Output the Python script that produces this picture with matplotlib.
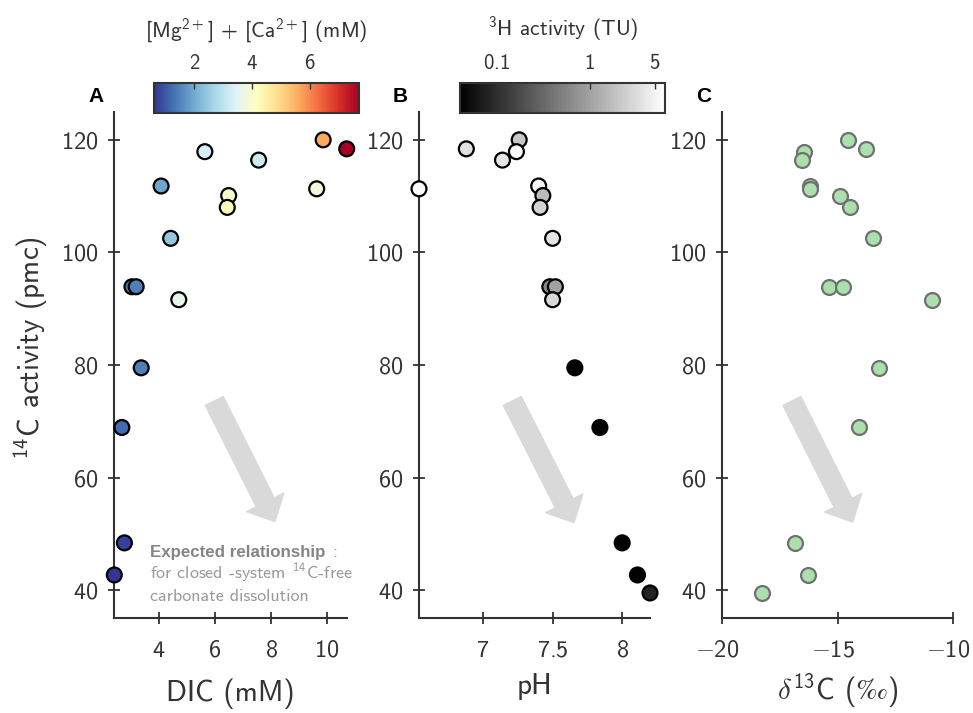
import numpy as np
import matplotlib
matplotlib.use("Agg")
import matplotlib.pyplot as plt
from matplotlib import cm, colors
from matplotlib.ticker import FuncFormatter
from matplotlib.transforms import ScaledTranslation

plt.rcParams['font.family'] = ['cmss10', 'DejaVu Sans']
plt.rcParams['mathtext.fontset'] = 'custom'
plt.rcParams['mathtext.rm'] = 'cmss10'
plt.rcParams['mathtext.sf'] = 'cmss10'
plt.rcParams['mathtext.it'] = 'cmss10'
plt.rcParams['mathtext.fallback'] = 'cm'

# samples sorted by 14C activity
pmc = [120.0, 118.4, 117.9, 116.4, 111.8, 111.3, 110.1, 108.0, 102.5,
       93.9, 93.9, 91.6, 79.5, 68.9, 48.4, 42.7, 39.5]
dic = [9.86, 10.70, 5.64, 7.56, 4.08, 9.63, 6.49, 6.44, 4.42,
       3.04, 3.19, 4.71, 3.37, 2.68, 2.77, 2.41, np.nan]
mgca = [5.6, 7.7, 3.3, 3.2, 1.95, 3.8, 4.0, 4.2, 2.45,
        1.45, 1.45, 3.6, 1.45, 1.2, 0.75, 0.6, np.nan]
ph = [7.26, 6.88, 7.24, 7.14, 7.40, 6.54, 7.43, 7.41, 7.50,
      7.48, 7.52, 7.50, 7.66, 7.84, 8.00, 8.11, 8.20]
tritium = [2.1, 3.5, 5.6, 3.7, 5.2, 6.4, 1.65, 2.7, 3.7,
           0.6, 0.99, 2.9, 0.04, 0.04, 0.04, 0.04, 0.08]
d13c = [-14.55, -13.77, -16.45, -16.54, -16.2, -16.2, -14.88, -14.47, -13.47,
        -15.35, -14.77, -10.88, -13.2, -14.08, -16.83, -16.28, -18.29]

dic = np.array(dic)
mgca = np.array(mgca)
ok = ~np.isnan(dic)

W, H = 973, 713
fig = plt.figure(figsize=(W / 100, H / 100), dpi=100)

def fx(px):
    return px / W

def fy(py):
    return 1 - py / H

def sf(v, pos=None):
    return r'$\mathsf{%g}$' % v

dark = '#333333'
bottom, top = fy(618.3), fy(111.7)
lefts = [114.3, 419.0, 722.3]
widths = [232.4, 231.0, 230.4]
axes = [fig.add_axes([fx(l), bottom, fx(w), top - bottom]) for l, w in zip(lefts, widths)]

for ax in axes:
    ax.set_ylim(35, 125)
    ax.set_yticks([40, 60, 80, 100, 120])
    ax.yaxis.set_major_formatter(FuncFormatter(sf))
    ax.xaxis.set_major_formatter(FuncFormatter(sf))
    for s in ['top', 'right']:
        ax.spines[s].set_visible(False)
    for s in ['left', 'bottom']:
        ax.spines[s].set_color(dark)
        ax.spines[s].set_linewidth(1.5)
    ax.tick_params(direction='inout', length=9, width=1.3, color=dark,
                   labelcolor=dark, labelsize=17.5)
    ax.tick_params(axis='x', pad=11)
    ax.tick_params(axis='y', pad=7)

# panel A
axA = axes[0]
normA = colors.Normalize(vmin=np.nanmin(mgca), vmax=np.nanmax(mgca))
axA.scatter(dic[ok], np.array(pmc)[ok], c=mgca[ok], cmap='RdYlBu_r', norm=normA,
            s=115, edgecolors='black', linewidths=1.6, zorder=3, clip_on=False)
axA.set_xlim(np.nanmin(dic), np.nanmax(dic))
axA.set_xticks([4, 6, 8, 10])
axA.set_xlabel('DIC (mM)', fontsize=21, color=dark, labelpad=12)
axA.set_ylabel(r'$^{\mathsf{14}}$C activity (pmc)', fontsize=21, color=dark)
axA.yaxis.set_label_coords(-0.277, 0.533)

# panel B
axB = axes[1]
normB = colors.LogNorm(vmin=min(tritium), vmax=max(tritium))
axB.scatter(ph, pmc, c=tritium, cmap='gray', norm=normB,
            s=115, edgecolors='black', linewidths=1.6, zorder=3, clip_on=False)
axB.set_xlim(min(ph), max(ph))
axB.set_xticks([7, 7.5, 8])
axB.set_xlabel('pH', fontsize=21, color=dark, labelpad=8)

# panel C
axC = axes[2]
axC.scatter(d13c, pmc, color='#abdfab', s=115, edgecolors='#707070',
            linewidths=1.6, zorder=3, clip_on=False)
axC.set_xlim(-20, -10)
axC.set_xticks([-20, -15, -10])
axC.set_xlabel(r'$\delta^{\mathsf{13}}$C ($\mathsf{‰}$)', fontsize=21, color=dark, labelpad=7)
shift = ScaledTranslation(-5 / 100, 0, fig.dpi_scale_trans)
for lbl in axC.get_xticklabels():
    lbl.set_transform(lbl.get_transform() + shift)

# expected relationship arrows
arrows = [((0.43, 0.429), (0.691, 0.191)),
          ((0.404, 0.429), (0.671, 0.189)),
          ((0.302, 0.429), (0.566, 0.190))]
for ax, (tail, tip) in zip(axes, arrows):
    ax.annotate('', xy=tip, xytext=tail, xycoords='axes fraction',
                arrowprops=dict(arrowstyle='simple,head_width=3.0,head_length=1.55,tail_width=1.44',
                                color='#d9d9d9', shrinkA=0, shrinkB=0, mutation_scale=10),
                zorder=1)

fig.text(fx(150), fy(556.7), 'Expected relationship', fontsize=12.2, color='#858585',
         fontweight='bold', family='Liberation Sans', va='baseline')
fig.text(fx(332), fy(556.7), ':', fontsize=13, color='#999999', va='baseline')
fig.text(fx(150), fy(578.5), r'for closed -system $^{\mathsf{14}}$C-free', fontsize=13,
         color='#999999', va='baseline')
fig.text(fx(150), fy(600.7), 'carbonate dissolution', fontsize=13, color='#999999',
         va='baseline')

# colorbars
caxA = fig.add_axes([fx(154), fy(113), fx(205), fy(83) - fy(113)])
cbA = fig.colorbar(cm.ScalarMappable(norm=normA, cmap='RdYlBu_r'), cax=caxA,
                   orientation='horizontal', ticklocation='top')
cbA.set_ticks([2, 4, 6])
cbA.set_label(r'[Mg$^{\mathsf{2+}}$] + [Ca$^{\mathsf{2+}}$] (mM)', fontsize=15.5,
              color=dark, labelpad=12)

caxB = fig.add_axes([fx(459.7), fy(113), fx(205.3), fy(83) - fy(113)])
cbB = fig.colorbar(cm.ScalarMappable(norm=normB, cmap='gray'), cax=caxB,
                   orientation='horizontal', ticklocation='top')
cbB.set_ticks([0.1, 1, 5])
cbB.minorticks_off()
cbB.set_label(r'$^{\mathsf{3}}$H activity (TU)', fontsize=15.5, color=dark, labelpad=12)

for cb in [cbA, cbB]:
    cb.ax.xaxis.set_major_formatter(FuncFormatter(sf))
    cb.outline.set_edgecolor(dark)
    cb.outline.set_linewidth(1.5)
    cb.ax.tick_params(direction='in', length=4, width=1, color=dark,
                      labelcolor=dark, labelsize=15, pad=7)

for lab, px in zip(['A', 'B', 'C'], [96, 400, 704]):
    fig.text(fx(px), fy(97), lab, fontsize=15, fontweight='bold', family='Liberation Sans',
             ha='center', va='center', color='black')

fig.savefig('out.png', dpi=100)
